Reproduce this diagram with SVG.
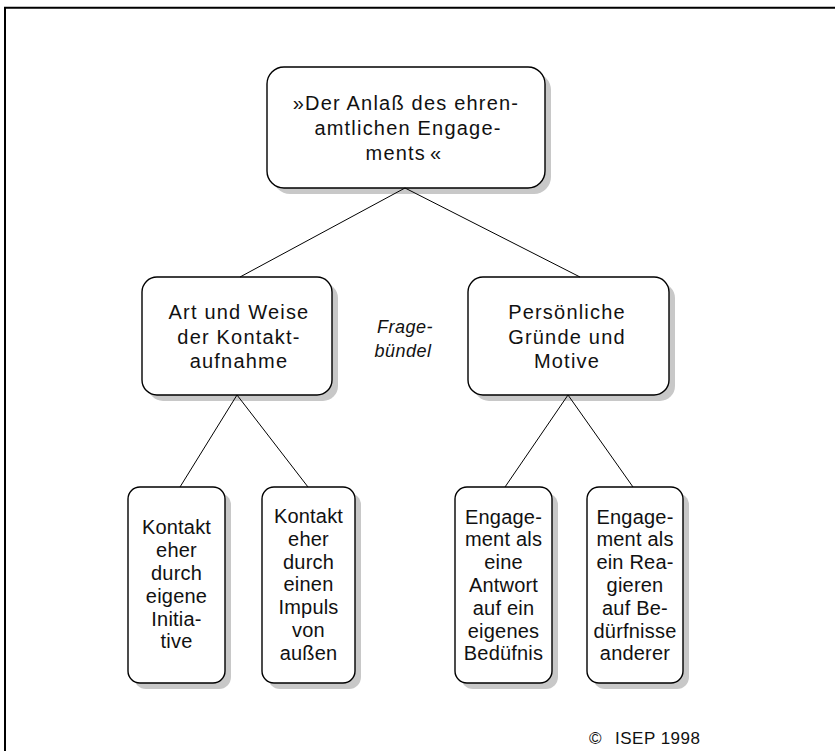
<svg xmlns="http://www.w3.org/2000/svg" width="835" height="751" viewBox="0 0 835 751">
  <style>
    .box { fill: #ffffff; stroke: #000000; stroke-width: 1.4; }
    .shadow { fill: #c8c8c8; stroke: none; }
    .edge { stroke: #000000; stroke-width: 1; fill: none; }
    .frame { stroke: #000000; stroke-width: 2; fill: none; }
    .t { font-family: "Liberation Sans", Arial, sans-serif; font-size: 20px; fill: #111111; text-anchor: middle; }
    .wide { letter-spacing: 1.2px; }
    .narrow { letter-spacing: 0.2px; }
    .note { font-family: "Liberation Sans", Arial, sans-serif; font-size: 18px; font-style: italic; fill: #111111; text-anchor: middle; letter-spacing: 0.5px; }
    .copy { font-family: "Liberation Sans", Arial, sans-serif; font-size: 17px; fill: #111111; letter-spacing: 0.5px; }
  </style>

  <rect x="0" y="0" width="835" height="751" fill="#ffffff"/>

  <!-- page frame: left and top rule -->
  <path class="frame" d="M5,751 V7.7 H835"/>

  <!-- root -->
  <g id="root">
    <rect class="shadow" x="273" y="73" width="278" height="121" rx="17"/>
    <rect class="box" x="267" y="67" width="278" height="121" rx="17"/>
    <text class="t wide" x="406" y="109.5">»Der Anlaß des ehren-</text>
    <text class="t wide" x="408" y="134.5">amtlichen Engage-</text>
    <text class="t wide" x="404" y="159.5">ments<tspan dx="4">«</tspan></text>
  </g>

  <!-- second level -->
  <g id="kontaktaufnahme">
    <rect class="shadow" x="148" y="283" width="190" height="118" rx="15"/>
    <rect class="box" x="142" y="277" width="190" height="118" rx="15"/>
    <text class="t wide" x="239" y="319">Art und Weise</text>
    <text class="t wide" x="239" y="343.5">der Kontakt-</text>
    <text class="t wide" x="239" y="368">aufnahme</text>
  </g>

  <g id="gruende">
    <rect class="shadow" x="474" y="283" width="201" height="118" rx="15"/>
    <rect class="box" x="468" y="277" width="201" height="118" rx="15"/>
    <text class="t wide" x="567" y="319">Persönliche</text>
    <text class="t wide" x="567" y="343.5">Gründe und</text>
    <text class="t wide" x="567" y="368">Motive</text>
  </g>

  <g id="fragebuendel">
    <text class="note" x="405" y="333">Frage-</text>
    <text class="note" x="403" y="357">bündel</text>
  </g>

  <!-- leaves -->
  <g id="eigene-initiative">
    <rect class="shadow" x="134" y="493" width="97" height="196" rx="12"/>
    <rect class="box" x="128" y="487" width="97" height="196" rx="12"/>
    <text class="t narrow" x="176.5" y="534.4">Kontakt</text>
    <text class="t narrow" x="176.5" y="557.2">eher</text>
    <text class="t narrow" x="176.5" y="580">durch</text>
    <text class="t narrow" x="176.5" y="602.8">eigene</text>
    <text class="t narrow" x="176.5" y="625.6">Initia-</text>
    <text class="t narrow" x="176.5" y="648.4">tive</text>
  </g>

  <g id="impuls-von-aussen">
    <rect class="shadow" x="268" y="493" width="93" height="196" rx="12"/>
    <rect class="box" x="262" y="487" width="93" height="196" rx="12"/>
    <text class="t narrow" x="308.5" y="523">Kontakt</text>
    <text class="t narrow" x="308.5" y="545.8">eher</text>
    <text class="t narrow" x="308.5" y="568.6">durch</text>
    <text class="t narrow" x="308.5" y="591.4">einen</text>
    <text class="t narrow" x="308.5" y="614.2">Impuls</text>
    <text class="t narrow" x="308.5" y="637">von</text>
    <text class="t narrow" x="308.5" y="659.8">außen</text>
  </g>

  <g id="eigenes-beduerfnis">
    <rect class="shadow" x="461" y="493" width="97" height="196" rx="12"/>
    <rect class="box" x="455" y="487" width="97" height="196" rx="12"/>
    <text class="t narrow" x="503.5" y="523.5">Engage-</text>
    <text class="t narrow" x="503.5" y="546.3">ment als</text>
    <text class="t narrow" x="503.5" y="569.1">eine</text>
    <text class="t narrow" x="503.5" y="591.9">Antwort</text>
    <text class="t narrow" x="503.5" y="614.7">auf ein</text>
    <text class="t narrow" x="503.5" y="637.5">eigenes</text>
    <text class="t narrow" x="503.5" y="660.3">Bedüfnis</text>
  </g>

  <g id="beduerfnisse-anderer">
    <rect class="shadow" x="593" y="493" width="96" height="196" rx="12"/>
    <rect class="box" x="587" y="487" width="96" height="196" rx="12"/>
    <text class="t narrow" x="635" y="523.5">Engage-</text>
    <text class="t narrow" x="635" y="546.3">ment als</text>
    <text class="t narrow" x="635" y="569.1">ein Rea-</text>
    <text class="t narrow" x="635" y="591.9">gieren</text>
    <text class="t narrow" x="635" y="614.7">auf Be-</text>
    <text class="t narrow" x="635" y="637.5">dürfnisse</text>
    <text class="t narrow" x="635" y="660.3">anderer</text>
  </g>

  <!-- tree connectors, drawn over the drop shadows -->
  <g id="connectors">
    <line class="edge" x1="405" y1="188" x2="240" y2="277"/>
    <line class="edge" x1="405" y1="188" x2="580" y2="277"/>
    <line class="edge" x1="237" y1="395" x2="180" y2="487"/>
    <line class="edge" x1="237" y1="395" x2="308" y2="487"/>
    <line class="edge" x1="568" y1="395" x2="505" y2="487"/>
    <line class="edge" x1="568" y1="395" x2="633" y2="487"/>
  </g>

  <g id="copyright">
    <text class="copy" x="589" y="744">©</text>
    <text class="copy" x="615" y="744">ISEP 1998</text>
  </g>
</svg>
